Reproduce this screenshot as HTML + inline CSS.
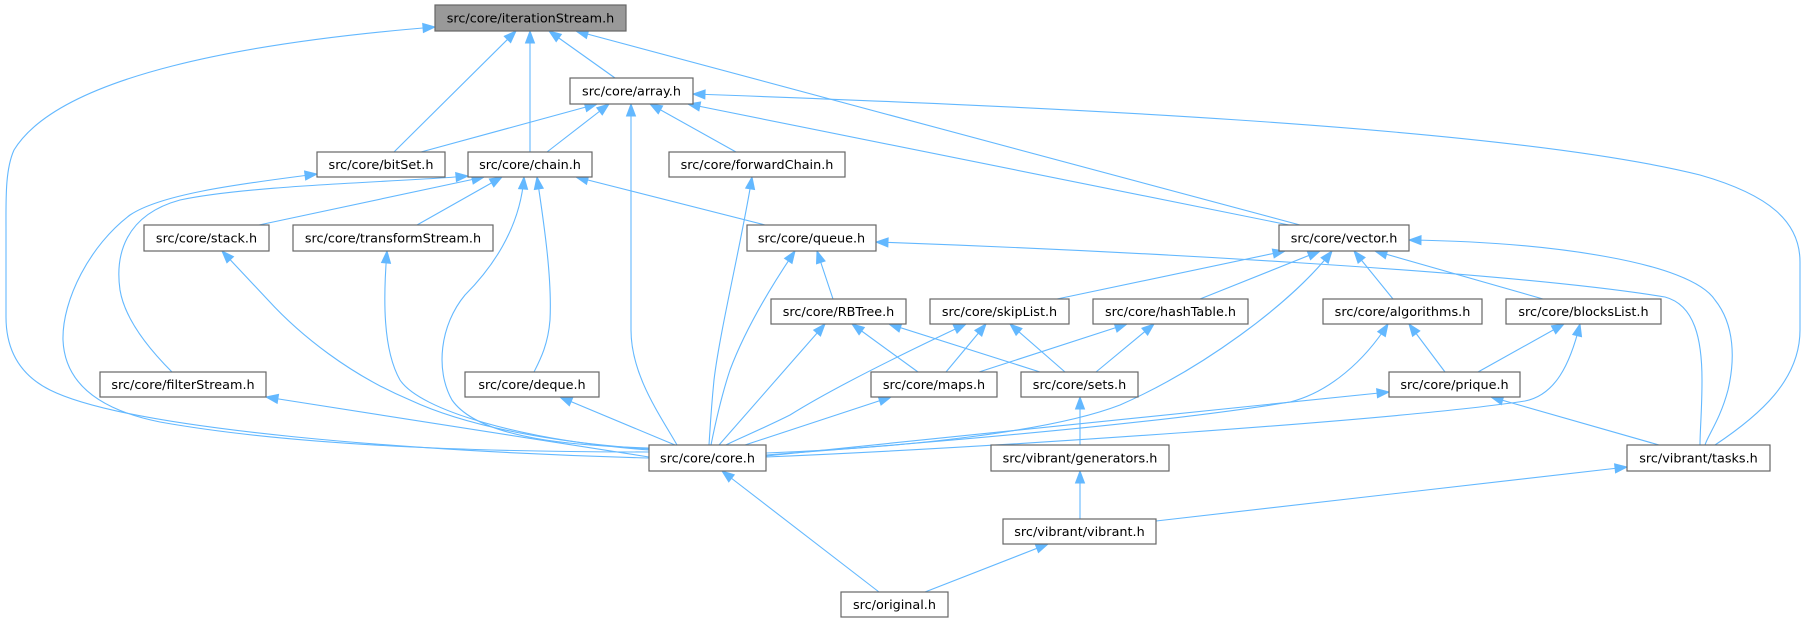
<!DOCTYPE html>
<html>
<head>
<meta charset="utf-8">
<style>
html,body{margin:0;padding:0;background:#fff;}
svg{display:block;}
.e{fill:none;stroke:#63b8ff;stroke-width:1.1;marker-start:url(#a);}
.n{fill:#fff;stroke:#666;stroke-width:1.2;}
text{font-family:"DejaVu Sans","Liberation Sans",sans-serif;font-size:12.8px;fill:#000;text-anchor:middle;}
</style>
</head>
<body>
<svg width="1805" height="623" viewBox="0 0 1805 623" xmlns="http://www.w3.org/2000/svg">
<defs>
<marker id="a" markerWidth="14" markerHeight="12" refX="12" refY="4.5" orient="auto-start-reverse" markerUnits="userSpaceOnUse" overflow="visible">
<path d="M0,0 L12,4.5 L0,9 z" fill="#63b8ff" stroke="#63b8ff" stroke-width="1"/>
</marker>
</defs>

<!-- edges -->
<path class="e" d="M435,27 C250,42 60,75 14,150 C5,170 6,200 6,230 L6,317 C6,350 20,375 50,390 C130,430 420,452 649,458"/>
<path class="e" d="M516,31 L394,152"/>
<path class="e" d="M530,31 L530,152"/>
<path class="e" d="M549,31 L615,78"/>
<path class="e" d="M576,31 L1300,225"/>
<path class="e" d="M597,104 L421,152"/>
<path class="e" d="M609,104 L547,152"/>
<path class="e" d="M631,104 L631,330 C631,375 660,415 677,445"/>
<path class="e" d="M650,104 L736,152"/>
<path class="e" d="M688,104 L1289,225"/>
<path class="e" d="M693,94 C1000,105 1500,125 1700,175 C1770,195 1800,222 1800,262 L1800,330 C1800,380 1760,415 1715,445"/>
<path class="e" d="M317,174 C230,185 160,195 130,215 C90,245 62,300 63,340 C65,390 110,412 160,422 C300,447 500,452 649,452"/>
<path class="e" d="M524,177 C520,230 490,270 465,295 C440,325 435,370 452,400 C480,440 580,446 649,448"/>
<path class="e" d="M468,176 C400,182 250,185 180,200 C125,215 115,255 120,290 C125,320 150,350 172,372"/>
<path class="e" d="M484,177 L259,225"/>
<path class="e" d="M502,177 L417,225"/>
<path class="e" d="M537,177 C545,230 552,280 550,320 C548,345 540,360 534,372"/>
<path class="e" d="M576,177 L765,225"/>
<path class="e" d="M752,177 C742,240 720,330 714,380 C711,410 710,430 709,445"/>
<path class="e" d="M795,251 C772,285 745,330 730,370 C720,400 714,430 711,445"/>
<path class="e" d="M817,251 L833,299"/>
<path class="e" d="M876,242 C1100,250 1500,270 1665,297 C1695,305 1702,340 1702,380 C1702,410 1700,430 1700,445"/>
<path class="e" d="M1409,240 C1550,242 1690,262 1715,300 C1735,325 1735,360 1728,390 C1720,420 1708,435 1705,445"/>
<path class="e" d="M1285,251 L1057,299"/>
<path class="e" d="M1320,251 L1200,299"/>
<path class="e" d="M1354,251 L1393,299"/>
<path class="e" d="M1375,251 L1543,299"/>
<path class="e" d="M1332,251 C1290,305 1200,370 1120,405 C1050,432 900,448 766,453"/>
<path class="e" d="M1388,324 C1365,360 1330,392 1290,402 C1150,425 900,445 766,455"/>
<path class="e" d="M1580,324 C1570,365 1555,395 1525,401 C1400,420 1000,447 766,457"/>
<path class="e" d="M1389,392 L766,456"/>
<path class="e" d="M1491,397 L1659,445"/>
<path class="e" d="M1409,324 L1445,372"/>
<path class="e" d="M1564,324 L1478,372"/>
<path class="e" d="M825,324 L719,445"/>
<path class="e" d="M852,324 L918,372"/>
<path class="e" d="M889,324 L1040,372"/>
<path class="e" d="M966,324 C900,355 830,390 790,415 C760,430 735,440 726,445"/>
<path class="e" d="M986,324 L946,372"/>
<path class="e" d="M1010,324 L1065,372"/>
<path class="e" d="M1127,324 L979,372"/>
<path class="e" d="M1154,324 L1096,372"/>
<path class="e" d="M891,397 L745,445"/>
<path class="e" d="M1080,397 L1080,445"/>
<path class="e" d="M1080,471 L1080,519"/>
<path class="e" d="M1048,544 L925,592"/>
<path class="e" d="M722,471 L879,592"/>
<path class="e" d="M1627,467 L1156,521"/>
<path class="e" d="M266,397 L649,457"/>
<path class="e" d="M560,397 L675,445"/>
<path class="e" d="M222,251 L268,300 C300,335 350,375 410,400 C470,428 560,443 649,449"/>
<path class="e" d="M387,251 C383,300 383,350 400,380 C420,410 520,440 649,450"/>

<!-- nodes -->
<rect x="435" y="5" width="191" height="26" fill="#999999" stroke="#666" stroke-width="1.2"/>
<text x="530.5" y="22.5">src/core/iterationStream.h</text>

<rect class="n" x="570" y="78" width="123" height="26"/>
<text x="631.5" y="95.5">src/core/array.h</text>

<rect class="n" x="317" y="152" width="128" height="25"/>
<text x="381" y="169">src/core/bitSet.h</text>

<rect class="n" x="468" y="152" width="124" height="25"/>
<text x="530" y="169">src/core/chain.h</text>

<rect class="n" x="669" y="152" width="176" height="25"/>
<text x="757" y="169">src/core/forwardChain.h</text>

<rect class="n" x="144" y="225" width="125" height="26"/>
<text x="206.5" y="242.5">src/core/stack.h</text>

<rect class="n" x="293" y="225" width="200" height="26"/>
<text x="393" y="242.5">src/core/transformStream.h</text>

<rect class="n" x="747" y="225" width="129" height="26"/>
<text x="811.5" y="242.5">src/core/queue.h</text>

<rect class="n" x="1279" y="225" width="130" height="26"/>
<text x="1344" y="242.5">src/core/vector.h</text>

<rect class="n" x="771" y="299" width="135" height="25"/>
<text x="838.5" y="316">src/core/RBTree.h</text>

<rect class="n" x="930" y="299" width="139" height="25"/>
<text x="999.5" y="316">src/core/skipList.h</text>

<rect class="n" x="1093" y="299" width="155" height="25"/>
<text x="1170.5" y="316">src/core/hashTable.h</text>

<rect class="n" x="1323" y="299" width="159" height="25"/>
<text x="1402.5" y="316">src/core/algorithms.h</text>

<rect class="n" x="1506" y="299" width="155" height="25"/>
<text x="1583.5" y="316">src/core/blocksList.h</text>

<rect class="n" x="100" y="372" width="166" height="25"/>
<text x="183" y="389">src/core/filterStream.h</text>

<rect class="n" x="465" y="372" width="134" height="25"/>
<text x="532" y="389">src/core/deque.h</text>

<rect class="n" x="871" y="372" width="126" height="25"/>
<text x="934" y="389">src/core/maps.h</text>

<rect class="n" x="1021" y="372" width="117" height="25"/>
<text x="1079.5" y="389">src/core/sets.h</text>

<rect class="n" x="1389" y="372" width="131" height="25"/>
<text x="1454.5" y="389">src/core/prique.h</text>

<rect class="n" x="649" y="445" width="117" height="26"/>
<text x="707.5" y="462.5">src/core/core.h</text>

<rect class="n" x="991" y="445" width="178" height="26"/>
<text x="1080" y="462.5">src/vibrant/generators.h</text>

<rect class="n" x="1627" y="445" width="143" height="26"/>
<text x="1698.5" y="462.5">src/vibrant/tasks.h</text>

<rect class="n" x="1003" y="519" width="153" height="25"/>
<text x="1079.5" y="536">src/vibrant/vibrant.h</text>

<rect class="n" x="841" y="592" width="107" height="25"/>
<text x="894.5" y="609">src/original.h</text>
</svg>
</body>
</html>
